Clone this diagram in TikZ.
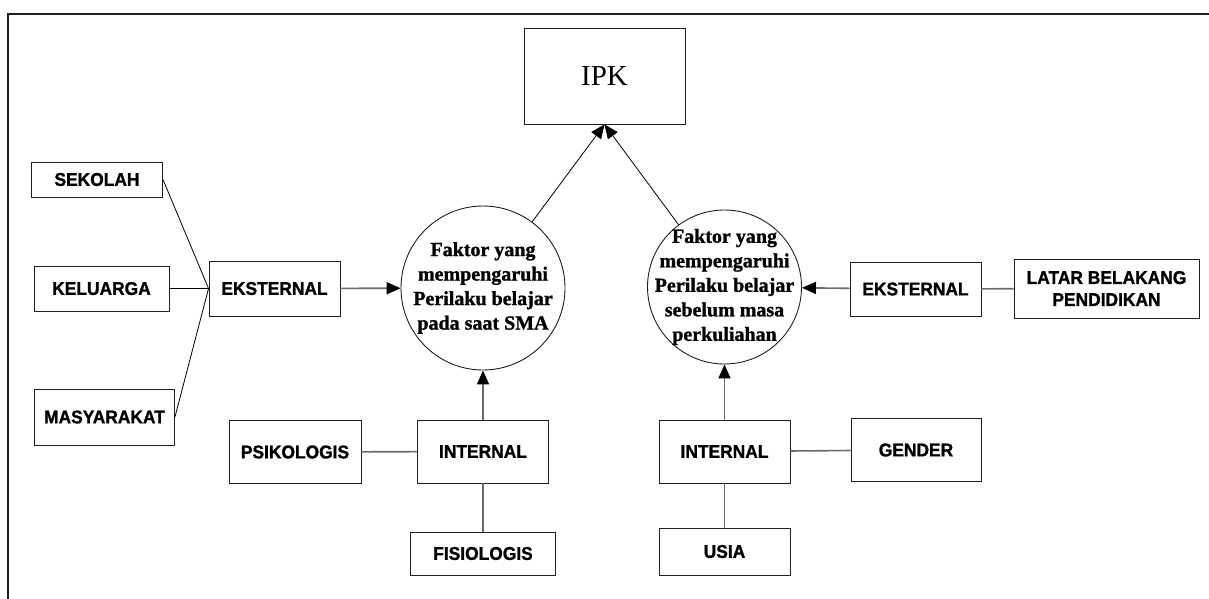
\documentclass[tikz,border=0pt]{standalone}
\usepackage{fontspec}
\usepackage{tikz}
\usetikzlibrary{arrows.meta, positioning}
\newfontfamily\kotakfont[FakeStretch=0.94, FakeBold=1.2]{Liberation Sans}
\newfontfamily\faktorfont{Liberation Serif}
\definecolor{lineGray}{gray}{0.42}
\definecolor{boxBlack}{gray}{0.12}

\tikzset{
    kotak/.style={draw=boxBlack, line width=0.9pt, inner sep=0pt, align=center,
        font=\kotakfont\bfseries\fontsize{18.5}{22}\selectfont},
    faktor/.style={draw=boxBlack, circle, line width=0.9pt, inner sep=0pt},
    faktorteks/.style={align=center, inner sep=0pt,
        font=\faktorfont\bfseries\addfontfeature{FakeBold=1.2}\fontsize{20}{24.5}\selectfont},
    garis/.style={draw=lineGray, line width=1.6pt},
    tipis/.style={draw=black, line width=0.8pt},
}

\begin{document}
\begin{tikzpicture}[x=1pt, y=-1pt, >={Triangle[length=14pt, width=12pt, color=black]}]
    \useasboundingbox (0,0) rectangle (1209,599);

    % Frame
    \draw[line width=1.6pt, boxBlack] (1215,14) -- (8,14) -- (8,605);

    % Target
    \node[kotak, minimum width=161pt, minimum height=96pt,
        font=\faktorfont\fontsize{29}{34}\selectfont] (ipk) at (604.5,76) {IPK};

    % Factors
    \node[faktor, minimum size=164pt] (smaCirc) at (483,288) {};
    \node[faktorteks] (smaText) at (smaCirc) {Faktor yang\\mempengaruhi\\Perilaku belajar\\pada saat SMA};
    \node[faktor, minimum size=154pt] (kuliahCirc) at (724.5,287) {};
    \node[faktorteks] (kuliahText) at (kuliahCirc) {Faktor yang\\mempengaruhi\\Perilaku belajar\\sebelum masa\\perkuliahan};

    % Left side
    \node[kotak, minimum width=131pt, minimum height=35pt] (sekolah) at (97,179.5) {SEKOLAH};
    \node[kotak, minimum width=135pt, minimum height=45pt] (keluarga) at (101.5,288.5) {KELUARGA};
    \node[kotak, minimum width=140pt, minimum height=56pt] (masyarakat) at (104.5,417) {MASYARAKAT};
    \node[kotak, minimum width=131pt, minimum height=55pt] (eksL) at (274.5,288.5) {EKSTERNAL};
    \node[kotak, minimum width=132pt, minimum height=63pt] (psikologis) at (295,452) {PSIKOLOGIS};
    \node[kotak, minimum width=131pt, minimum height=63pt] (intL) at (483,451.5) {INTERNAL};
    \node[kotak, minimum width=145pt, minimum height=43pt] (fisiologis) at (483,553.5) {FISIOLOGIS};

    % Right side
    \node[kotak, minimum width=131pt, minimum height=63pt] (intR) at (724.5,451.5) {INTERNAL};
    \node[kotak, minimum width=131pt, minimum height=47pt] (usia) at (724.5,551.5) {USIA};
    \node[kotak, minimum width=130pt, minimum height=63pt] (gender) at (916,450) {GENDER};
    \node[kotak, minimum width=131pt, minimum height=54pt] (eksR) at (915.5,289) {EKSTERNAL};
    \node[kotak, minimum width=185pt, minimum height=59pt] (latar) at (1106.5,288.5) {LATAR BELAKANG\\PENDIDIKAN};

    % Connectors
    \draw[tipis] (sekolah.east) -- (eksL.west);
    \draw[tipis] (keluarga.east) -- (eksL.west);
    \draw[tipis] (masyarakat.east) -- (eksL.west);
    \draw[garis, ->] (eksL) -- (smaCirc);
    \draw[garis] (psikologis) -- (intL);
    \draw[garis] (intL) -- (fisiologis);
    \draw[garis, ->] (intL) -- (smaCirc);

    \draw[garis, ->] (intR) -- (kuliahCirc);
    \draw[garis] (intR) -- (gender);
    \draw[garis] (intR) -- (usia);
    \draw[garis, ->] (eksR) -- (kuliahCirc);
    \draw[garis] (latar) -- (eksR);

    \draw[tipis, ->] (smaCirc) -- (ipk.south);
    \draw[tipis, ->] (kuliahCirc) -- (ipk.south);
\end{tikzpicture}
\end{document}
